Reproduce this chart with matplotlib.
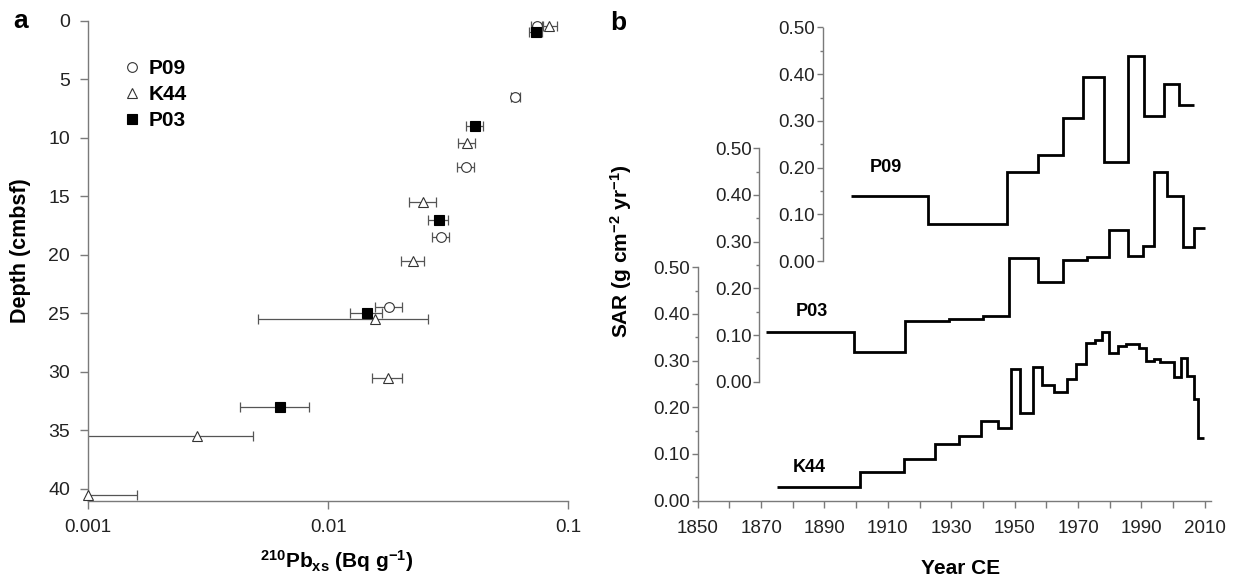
import matplotlib
matplotlib.use('Agg')
import matplotlib.pyplot as plt
from matplotlib.ticker import FixedLocator, MultipleLocator, NullLocator, FormatStrFormatter, FixedFormatter
from matplotlib.lines import Line2D

plt.rcParams['font.family'] = ['Liberation Sans', 'DejaVu Sans']
plt.rcParams['mathtext.fontset'] = 'custom'
plt.rcParams['mathtext.rm'] = 'Liberation Sans'
plt.rcParams['mathtext.bf'] = 'Liberation Sans:bold'
plt.rcParams['mathtext.it'] = 'Liberation Sans:italic'

# ---------------- Panel a data: 210Pb_xs profiles ----------------
p09_depth = [0.5, 6.5, 12.5, 18.5, 24.5]
p09_pb = [0.0742, 0.0601, 0.0373, 0.0295, 0.0179]
p09_err = [0.0045, 0.0025, 0.0030, 0.0024, 0.0023]

k44_depth = [0.5, 10.5, 15.5, 20.5, 25.5, 30.5, 35.5, 40.5]
k44_pb = [0.0834, 0.0378, 0.0248, 0.0225, 0.0156, 0.0177, 0.00284, 0.0010]
k44_err = [0.0060, 0.0030, 0.0032, 0.0025, 0.0105, 0.0025, 0.0020, 0.0006]

p03_depth = [1.0, 9.0, 17.0, 25.0, 33.0]
p03_pb = [0.0730, 0.0409, 0.0288, 0.0145, 0.0063]
p03_err = [0.0047, 0.0033, 0.0027, 0.0022, 0.0020]

depth_ticks = [0, 5, 10, 15, 20, 25, 30, 35, 40]
pb_ticks = [0.001, 0.01, 0.1]
pb_tick_labels = ['0.001', '0.01', '0.1']

# ---------------- Panel b data: SAR step histories ----------------
k44_years = [1875.0, 1901.3, 1915.2, 1924.9, 1932.5, 1939.4, 1944.6, 1948.7, 1951.8,
             1955.8, 1958.7, 1962.5, 1966.4, 1969.4, 1972.5, 1975.2, 1977.6, 1979.8,
             1982.6, 1985.2, 1989.2, 1991.6, 1993.9, 1995.8, 2000.3, 2002.5, 2004.4,
             2006.5, 2008.0, 2009.9]
k44_sar = [0.030, 0.061, 0.089, 0.122, 0.139, 0.170, 0.156, 0.282, 0.187, 0.286,
           0.248, 0.233, 0.261, 0.292, 0.338, 0.344, 0.361, 0.317, 0.332, 0.335,
           0.326, 0.300, 0.304, 0.298, 0.264, 0.306, 0.266, 0.217, 0.135]

p03_years = [1871.4, 1899.4, 1915.4, 1929.4, 1940.1, 1948.1, 1957.3, 1965.2, 1972.8,
             1979.8, 1985.8, 1990.4, 1994.0, 1998.1, 2003.0, 2006.7, 2010.1]
p03_sar = [0.106, 0.064, 0.129, 0.135, 0.1415, 0.264, 0.213, 0.260, 0.266, 0.325,
           0.269, 0.291, 0.450, 0.398, 0.289, 0.329]

p09_years = [1898.5, 1922.8, 1947.7, 1957.5, 1965.2, 1971.6, 1978.1, 1985.8, 1990.7,
             1997.0, 2001.8, 2006.7]
p09_sar = [0.140, 0.080, 0.191, 0.227, 0.307, 0.393, 0.212, 0.439, 0.310, 0.378, 0.335]

year_major_ticks = [1850, 1870, 1890, 1910, 1930, 1950, 1970, 1990, 2010]
year_minor_ticks = [1860, 1880, 1900, 1920, 1940, 1960, 1980, 2000]

# ---------------- Figure ----------------
W, H = 1236, 577
fig = plt.figure(figsize=(W / 100, H / 100), dpi=100)
fig.patch.set_facecolor('white')

def add_ax(left, right, top, bottom):
    return fig.add_axes([left / W, 1 - bottom / H, (right - left) / W, (bottom - top) / H])

def fx(x):
    return x / W

def fy(y):
    return 1 - y / H

SPINE = '#7a7a7a'
TICKLBL = '#222222'

# ---------------- Panel a ----------------
axa = add_ax(88.3, 568.4, 20.5, 500.5)
axa.set_xscale('log')
axa.set_xlim(0.001, 0.1)
axa.set_ylim(41, 0)
for s in ['top', 'right']:
    axa.spines[s].set_visible(False)
for s in ['left', 'bottom']:
    axa.spines[s].set_color(SPINE)
    axa.spines[s].set_linewidth(1.0)
axa.xaxis.set_major_locator(FixedLocator(pb_ticks))
axa.xaxis.set_major_formatter(FixedFormatter(pb_tick_labels))
axa.xaxis.set_minor_locator(NullLocator())
axa.yaxis.set_major_locator(FixedLocator(depth_ticks))
axa.tick_params(axis='x', direction='out', length=6, width=1.0, color=SPINE,
                labelsize=13.5, pad=7, labelcolor=TICKLBL)
axa.tick_params(axis='y', direction='out', length=6, width=1.0, color=SPINE,
                labelsize=14, pad=7, labelcolor=TICKLBL)

ecol = '#555555'
mcol = '#333333'
for pb, d, e in [(p09_pb, p09_depth, p09_err), (k44_pb, k44_depth, k44_err),
                 (p03_pb, p03_depth, p03_err)]:
    axa.errorbar(pb, d, xerr=e, fmt='none', ecolor=ecol, elinewidth=0.9,
                 capsize=3.5, capthick=0.9, zorder=2)

h1, = axa.plot(p09_pb, p09_depth, 'o', ms=7, mfc='white', mec=mcol, mew=0.8,
               clip_on=False, zorder=3)
h2, = axa.plot(k44_pb, k44_depth, '^', ms=7, mfc='white', mec=mcol, mew=0.8,
               clip_on=False, zorder=3)
h3, = axa.plot(p03_pb, p03_depth, 's', ms=7, mfc='black', mec='black', mew=0.8,
               clip_on=False, zorder=4)

leg = axa.legend([h1, h2, h3], ['P09', 'K44', 'P03'], loc='upper left',
                 bbox_to_anchor=(fx(121.5), fy(59.5)), bbox_transform=fig.transFigure,
                 frameon=False, prop={'weight': 'bold', 'size': 15},
                 handletextpad=0.3, labelspacing=0.33, handlelength=1.0,
                 borderpad=0, borderaxespad=0)

fig.text(fx(21), fy(251), 'Depth (cmbsf)', rotation=90, ha='center', va='center',
         fontsize=15.5, fontweight='bold')
fig.text(fx(337), fy(561), r'$^{\mathbf{210}}$Pb$_{\mathbf{xs}}$ (Bq g$^{\mathbf{-1}}$)',
         ha='center', va='center', fontsize=15, fontweight='bold')
fig.text(fx(13), fy(28.5), 'a', ha='left', va='baseline', fontsize=19, fontweight='bold')

# ---------------- Panel b ----------------
YEAR0, YEAR1 = 1850, 2011.8
X_LEFT, X_RIGHT = 697.7, 1210.5
ppy = (X_RIGHT - X_LEFT) / (YEAR1 - YEAR0)
HALF = 233.5  # pixels for 0.5 SAR units

def sar_axes(year_start, zero_px):
    left = X_LEFT + (year_start - YEAR0) * ppy
    ax = add_ax(left, X_RIGHT, zero_px - HALF, zero_px)
    ax.set_xlim(year_start, YEAR1)
    ax.set_ylim(0, 0.5)
    ax.patch.set_visible(False)
    for s in ['top', 'right']:
        ax.spines[s].set_visible(False)
    ax.spines['left'].set_color(SPINE)
    ax.spines['left'].set_linewidth(1.0)
    ax.yaxis.set_major_locator(MultipleLocator(0.1))
    ax.yaxis.set_minor_locator(MultipleLocator(0.05))
    ax.yaxis.set_major_formatter(FormatStrFormatter('%.2f'))
    ax.tick_params(axis='y', which='major', direction='out', length=4, width=1.0,
                   color=SPINE, labelsize=13.5, pad=1.5, labelcolor=TICKLBL)
    ax.tick_params(axis='y', which='minor', direction='out', length=2, width=1.0,
                   color=SPINE)
    return ax

ax_k = sar_axes(1850, 500.7)
ax_p03 = sar_axes(1869.4, 381.7)
ax_p09 = sar_axes(1889.4, 261.0)

ax_k.spines['bottom'].set_color(SPINE)
ax_k.spines['bottom'].set_linewidth(1.0)
ax_k.xaxis.set_major_locator(FixedLocator(year_major_ticks))
ax_k.xaxis.set_minor_locator(FixedLocator(year_minor_ticks))
ax_k.tick_params(axis='x', which='both', direction='out', length=5, width=1.0,
                 color=SPINE, labelsize=13.5, pad=9, labelcolor=TICKLBL)
for ax in (ax_p03, ax_p09):
    ax.spines['bottom'].set_visible(False)
    ax.tick_params(axis='x', which='both', bottom=False, labelbottom=False)

ax_k.stairs(k44_sar, k44_years, baseline=None, color='black', lw=2.0)
ax_p03.stairs(p03_sar, p03_years, baseline=None, color='black', lw=2.0)
ax_p09.stairs(p09_sar, p09_years, baseline=None, color='black', lw=2.0)

fig.text(fx(886), fy(167), 'P09', ha='center', va='center', fontsize=13, fontweight='bold')
fig.text(fx(812), fy(311), 'P03', ha='center', va='center', fontsize=13, fontweight='bold')
fig.text(fx(809), fy(467), 'K44', ha='center', va='center', fontsize=13, fontweight='bold')

fig.text(fx(621), fy(251), r'SAR (g cm$^{\mathbf{-2}}$ yr$^{\mathbf{-1}}$)', rotation=90,
         ha='center', va='center', fontsize=15, fontweight='bold')
fig.text(fx(961), fy(568), 'Year CE', ha='center', va='center', fontsize=15,
         fontweight='bold')
fig.text(fx(610), fy(30), 'b', ha='left', va='baseline', fontsize=19, fontweight='bold')

fig.savefig('out.png', dpi=100, facecolor='white')
